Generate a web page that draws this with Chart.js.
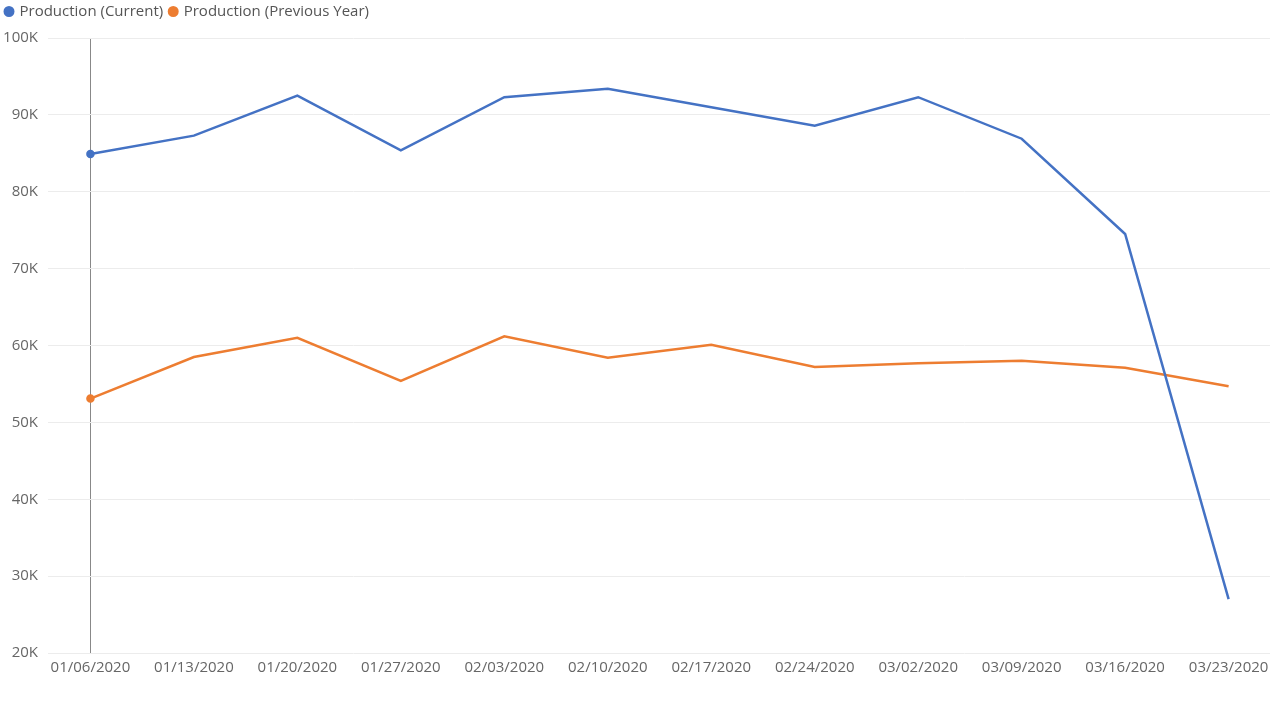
<!DOCTYPE html>
<html>
<head>
<meta charset="utf-8">
<script src="https://cdn.jsdelivr.net/npm/chart.js@4"></script>
<style>
  html, body { margin: 0; padding: 0; background: #fff; }
  #wrap { width: 1280px; height: 708px; }
</style>
</head>
<body>
<div id="wrap"><canvas id="myChart"></canvas></div>
<script>
// week labels on the x axis
var weeks = ['01/06/2020','01/13/2020','01/20/2020','01/27/2020','02/03/2020','02/10/2020',
             '02/17/2020','02/24/2020','03/02/2020','03/09/2020','03/16/2020','03/23/2020'];
// values in thousands
var current = [84.9, 87.3, 92.5, 85.4, 92.3, 93.4, 91.0, 88.6, 92.3, 86.9, 74.5, 27.0];
var previous = [53.1, 58.5, 61.0, 55.4, 61.2, 58.4, 60.1, 57.2, 57.7, 58.0, 57.1, 54.7];
var yTicks = [20, 30, 40, 50, 60, 70, 80, 90, 100];

function toPoints(arr){
	var out = [];
	for (var i = 0; i < arr.length; i++) {
		out.push({ x: i, y: arr[i] * 1000 });
	}
	return out;
}

// only the hovered (first) week shows its dots
var radii = weeks.map(function(w, i){ return i === 0 ? 3 : 0; });

var fontFam = "'Open Sans', 'Noto Sans', sans-serif";

// extra room under the legend
var legendGap = {
	id: 'legendGap',
	beforeInit: function(chart){
		var fit = chart.legend.fit;
		chart.legend.fit = function(){
			fit.bind(chart.legend)();
			this.height += 9;
		};
	}
};

var ctx = document.getElementById('myChart').getContext('2d');
var myChart = new Chart(ctx, {
	type: 'line',
	data: {
		datasets: [{
			label: 'Production (Current)',
			data: toPoints(current),
			borderColor: '#4472C4',
			backgroundColor: '#4472C4',
			borderWidth: 2.5,
			pointRadius: radii,
			pointHoverRadius: radii,
			tension: 0,
			fill: false
		}, {
			label: 'Production (Previous Year)',
			data: toPoints(previous),
			borderColor: '#ED7D31',
			backgroundColor: '#ED7D31',
			borderWidth: 2.5,
			pointRadius: radii,
			pointHoverRadius: radii,
			tension: 0,
			fill: false
		}]
	},
	options: {
		responsive: true,
		maintainAspectRatio: false,
		animation: false,
		layout: { padding: { left: -1, right: 10, top: -3, bottom: 25 } },
		plugins: {
			tooltip: { enabled: false },
			legend: {
				position: 'top',
				align: 'start',
				labels: {
					usePointStyle: true,
					pointStyle: 'circle',
					boxWidth: 6,
					boxHeight: 6,
					padding: 7,
					color: '#555',
					font: { family: fontFam, size: 15 }
				}
			}
		},
		scales: {
			x: {
				type: 'linear',
				min: -0.41,
				max: 11.4,
				afterBuildTicks: function(axis){
					axis.ticks = weeks.map(function(w, i){ return { value: i }; });
				},
				ticks: {
					autoSkip: false,
					maxRotation: 0,
					color: '#666',
					padding: 6,
					font: { family: fontFam, size: 15 },
					callback: function(v){ return weeks[v]; }
				},
				grid: {
					drawTicks: false,
					lineWidth: 1,
					color: function(c){ return c.tick && c.tick.value === 0 ? '#888' : 'rgba(0,0,0,0)'; }
				},
				border: { display: false }
			},
			y: {
				min: 20000,
				max: 100000,
				afterBuildTicks: function(axis){
					axis.ticks = yTicks.map(function(t){ return { value: t * 1000 }; });
				},
				afterFit: function(axis){ axis.width = 49; },
				ticks: {
					color: '#666',
					padding: 10,
					font: { family: fontFam, size: 15 },
					callback: function(v){ return (v / 1000) + 'K'; }
				},
				grid: { color: '#ececec', drawTicks: false, lineWidth: 1 },
				border: { display: false }
			}
		}
	},
	plugins: [legendGap]
});
</script>
</body>
</html>
